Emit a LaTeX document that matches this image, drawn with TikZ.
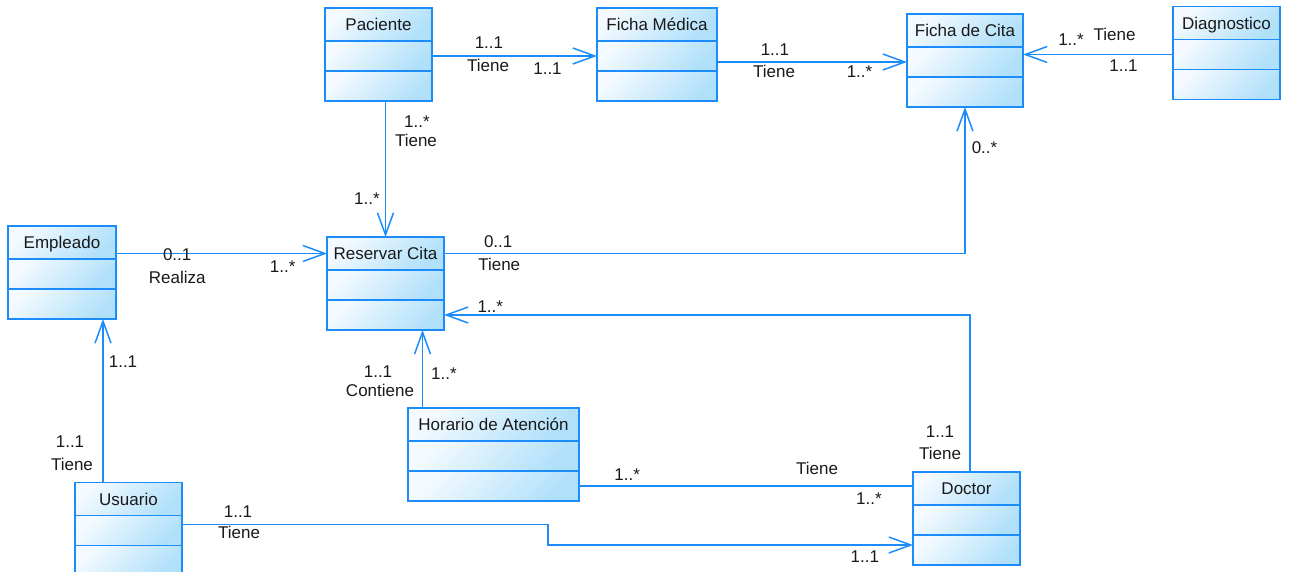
\documentclass[tikz,border=0pt]{standalone}
\usepackage{fontspec}
\setmainfont{Liberation Sans}
\usepackage{tikz}
\usetikzlibrary{arrows.meta,positioning,calc}
\definecolor{umlblue}{RGB}{28,140,250}
\definecolor{umlwhite}{RGB}{244,250,255}
\definecolor{umlsky}{RGB}{176,224,250}
\tikzset{%
  classhead/.style = {shape=rectangle, draw=umlblue, line width=1.8pt,%
                      inner sep=0pt, outer sep=0pt, minimum height=33pt,%
                      text height=12.2pt, text depth=0pt, text=black!90,%
                      top color=umlwhite, bottom color=umlsky, shading angle=45,%
                      font={\fontsize{17pt}{20pt}\selectfont}},%
  classpart/.style = {classhead, minimum height=30pt},%
  assoc/.style     = {draw=umlblue, line width=1.7pt},%
  navig/.style     = {assoc, -{Straight Barb[length=22pt,width=16pt,line width=1.5pt]}},%
  mult/.style      = {inner sep=0pt, text=black!90, font={\fontsize{17pt}{20pt}\selectfont}}%
}
\begin{document}
\begin{tikzpicture}
[x=1pt,y=-1pt]
	\useasboundingbox (0,0) rectangle (1289,572);
	\node [classhead, minimum width=107pt] (pac) at (378.5,24.5) {Paciente};
	\node [classpart, minimum width=107pt, below=0pt of pac] (pac2) {};
	\node [classpart, minimum width=107pt, below=0pt of pac2] (pac3) {};
	\node [classhead, minimum width=120pt] (fme) at (657,24.5) {Ficha Médica};
	\node [classpart, minimum width=120pt, below=0pt of fme] (fme2) {};
	\node [classpart, minimum width=120pt, below=0pt of fme2] (fme3) {};
	\node [classhead, minimum width=116pt] (fci) at (965,30.5) {Ficha de Cita};
	\node [classpart, minimum width=116pt, below=0pt of fci] (fci2) {};
	\node [classpart, minimum width=116pt, below=0pt of fci2] (fci3) {};
	\node [classhead, minimum width=107pt] (dia) at (1226.5,23) {Diagnostico};
	\node [classpart, minimum width=107pt, below=0pt of dia] (dia2) {};
	\node [classpart, minimum width=107pt, below=0pt of dia2] (dia3) {};
	\node [classhead, minimum width=108pt] (emp) at (62,242.5) {Empleado};
	\node [classpart, minimum width=108pt, below=0pt of emp] (emp2) {};
	\node [classpart, minimum width=108pt, below=0pt of emp2] (emp3) {};
	\node [classhead, minimum width=117pt] (res) at (385.5,253.5) {Reservar Cita};
	\node [classpart, minimum width=117pt, below=0pt of res] (res2) {};
	\node [classpart, minimum width=117pt, below=0pt of res2] (res3) {};
	\node [classhead, minimum width=171pt] (hor) at (493.5,424.5) {Horario de Atención};
	\node [classpart, minimum width=171pt, below=0pt of hor] (hor2) {};
	\node [classpart, minimum width=171pt, below=0pt of hor2] (hor3) {};
	\node [classhead, minimum width=107pt] (usu) at (128.5,499) {Usuario};
	\node [classpart, minimum width=107pt, below=0pt of usu] (usu2) {};
	\node [classpart, minimum width=107pt, below=0pt of usu2] (usu3) {};
	\node [classhead, minimum width=107pt] (doc) at (966.5,488.5) {Doctor};
	\node [classpart, minimum width=107pt, below=0pt of doc] (doc2) {};
	\node [classpart, minimum width=107pt, below=0pt of doc2] (doc3) {};
	\coordinate (hc) at ([xshift=37pt]res3.south);
	\draw [navig] (pac2.east) --
		node [mult,pos=.345,yshift=13pt] {1..1} node [mult,pos=.34,yshift=-9pt] {Tiene}
		node [mult,pos=.70,yshift=-13pt] {1..1} (fme2.west);
	\draw [navig] (fme2.east |- fci2.west) --
		node [mult,pos=.305,yshift=12pt] {1..1} node [mult,pos=.30,yshift=-9pt] {Tiene}
		node [mult,pos=.75,yshift=-10pt] {1..*} (fci2.west);
	\draw [navig] (dia2.west) --
		node [mult,pos=.68,yshift=14.5pt] {1..*} node [mult,pos=.39,yshift=20.5pt] {Tiene}
		node [mult,pos=.33,yshift=-11.5pt] {1..1} (dia2.west -| fci2.east);
	\draw [navig] (res.north |- pac3.south) --
		node [mult,pos=.15,xshift=31.5pt] {1..*} node [mult,pos=.29,xshift=30.5pt] {Tiene}
		node [mult,pos=.72,xshift=-18.5pt] {1..*} (res.north);
	\draw [navig] (res.west -| emp.east) --
		node [mult,pos=.29,yshift=-1.5pt] {0..1} node [mult,pos=.29,yshift=-23.5pt] {Realiza}
		node [mult,pos=.79,yshift=-13.5pt] {1..*} (res.west);
	\draw [navig] (res.east) -|
		node [mult,pos=.052,yshift=11.5pt] {0..1} node [mult,pos=.053,yshift=-10.5pt] {Tiene}
		node [mult,pos=.86,xshift=19.5pt] {0..*} (fci3.south);
	\draw [navig] ([xshift=3.5pt]doc.north) |-
		node [mult,pos=.127,xshift=-30pt] {1..1} node [mult,pos=.06,xshift=-30pt] {Tiene}
		node [mult,pos=.956,yshift=8.5pt] {1..*} (res3.east);
	\draw [navig] (hor.north -| hc) --
		node [mult,pos=.47,xshift=-44.5pt] {1..1} node [mult,pos=.23,xshift=-42.5pt] {Contiene}
		node [mult,pos=.44,xshift=21.5pt] {1..*} (hc);
	\draw [assoc] (hor3.east) --
		node [mult,pos=.144,yshift=11pt] {1..*} node [mult,pos=.713,yshift=18pt] {Tiene}
		node [mult,pos=.868,yshift=-13pt] {1..*} (hor3.east -| doc.west);
	\draw [navig] ([xshift=-25.5pt]usu.north) --
		node [mult,pos=.74,xshift=20pt] {1..1} node [mult,pos=.25,xshift=-33pt] {1..1}
		node [mult,pos=.11,xshift=-31pt] {Tiene} ([xshift=-25.5pt]usu.north |- emp3.south);
	\draw [navig] ([yshift=6pt]usu2.east) --
		node [mult,pos=.153,yshift=13pt] {1..1} node [mult,pos=.156,yshift=-8pt] {Tiene}
		++(366pt,0pt) |- node [mult,pos=.934,yshift=-11.5pt] {1..1} ([yshift=5pt]doc3.west);
\end{tikzpicture}
\end{document}
